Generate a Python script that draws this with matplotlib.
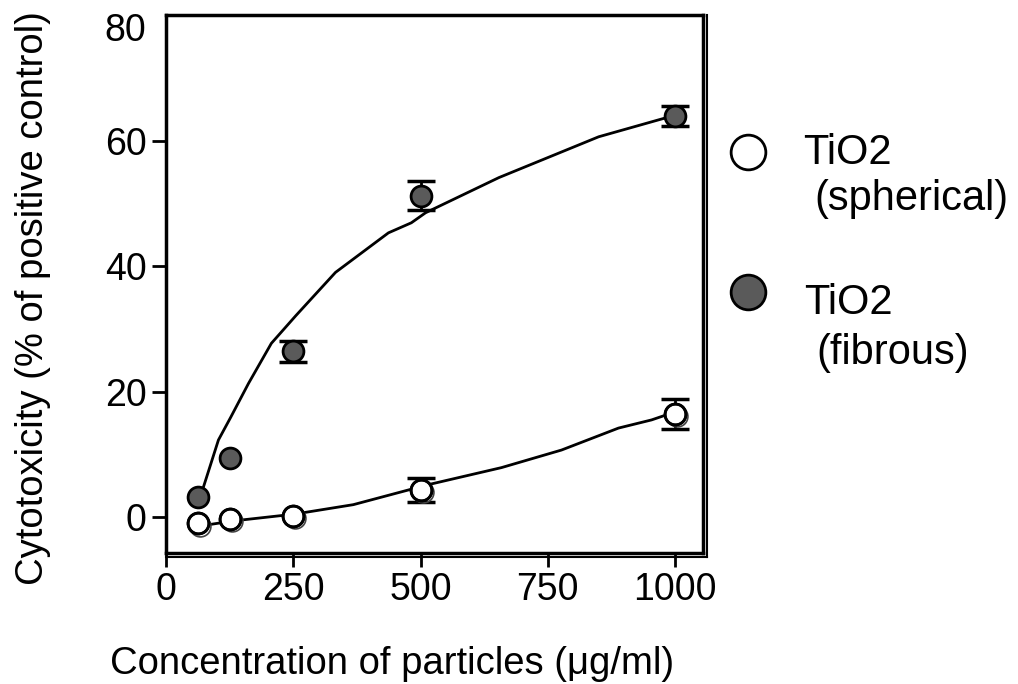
import matplotlib
matplotlib.use("Agg")
import matplotlib.pyplot as plt
import matplotlib.transforms as mtransforms
from matplotlib.lines import Line2D

plt.rcParams['font.family'] = ['Liberation Sans', 'DejaVu Sans']

# ---- data ----
conc = [62.5, 125, 250, 500, 1000]
fibrous = [3.2, 9.5, 26.4, 51.2, 63.9]
fibrous_err = [0, 0, 1.7, 2.3, 1.6]
spherical = [-1.0, -0.3, 0.2, 4.4, 16.5]
spherical_err = [0, 0, 0, 1.9, 2.4]

# fitted curves
fib_fit_x = [70, 103, 127, 162, 207, 255, 333, 437, 482, 510, 654, 850, 981, 1001]
fib_fit_y = [3.9, 12.3, 15.9, 21.3, 27.7, 32.1, 39.0, 45.3, 46.9, 48.5, 54.1, 60.6, 63.6, 63.9]
sph_fit_x = [59, 131, 253, 368, 516, 659, 777, 889, 954, 1001]
sph_fit_y = [-1.5, -0.6, 0.5, 2.0, 5.2, 7.9, 10.7, 14.2, 15.5, 16.8]

xticks = [0, 250, 500, 750, 1000]
yticks = [0, 20, 40, 60, 80]

W, H = 1018, 684
fig = plt.figure(figsize=(W / 100, H / 100), dpi=100)
ax = fig.add_axes([166 / W, 1 - 553 / H, (703 - 166) / W, (553 - 15) / H])

dark = '#5a5a5a'

ax.plot(fib_fit_x, fib_fit_y, color='black', lw=2, zorder=2)
ax.plot(sph_fit_x, sph_fit_y, color='black', lw=2, zorder=2)


def draw_err(xs, ys, es):
    sel = [i for i, e in enumerate(es) if e > 0]
    ax.errorbar([xs[i] for i in sel], [ys[i] for i in sel], yerr=[es[i] for i in sel],
                fmt='none', ecolor='black', elinewidth=2, capsize=10, capthick=2.5,
                zorder=3)


draw_err(conc, fibrous, fibrous_err)
draw_err(conc, spherical, spherical_err)

ax.plot(conc, fibrous, 'o', ms=15, mfc=dark, mec='black', mew=2, zorder=4)
# shadow ring for the open circles
shadow = mtransforms.offset_copy(ax.transData, fig=fig, x=1.5, y=-1.5, units='points')
ax.plot(conc, spherical, 'o', ms=15, mfc='none', mec='#444444', mew=1.2,
        transform=shadow, zorder=4)
ax.plot(conc, spherical, 'o', ms=15, mfc='white', mec='black', mew=2, zorder=5)
ax.plot(conc, spherical, 'o', ms=15, mfc='none', mec='black', mew=2, zorder=6)

ax.set_xlim(0, 1055)
ax.set_ylim(-5.7, 80)
ax.set_xticks(xticks)
ax.set_yticks(yticks)
ax.tick_params(axis='both', direction='out', length=10, width=2, labelsize=27, pad=4)
for s in ax.spines.values():
    s.set_linewidth(2.5)

# no tick mark at 80, and its label sits a little lower, as in the reference
ax.yaxis.get_major_ticks()[-1].tick1line.set_visible(False)
lab = ax.get_yticklabels()
lab[-1].set_transform(lab[-1].get_transform() +
                      mtransforms.ScaledTranslation(0, -0.12, fig.dpi_scale_trans))

# shadow lines on right and bottom
fig.add_artist(Line2D([707 / W, 707 / W], [1 - 557 / H, 1 - 15 / H], color='black', lw=1.5))
fig.add_artist(Line2D([166 / W, 707 / W], [1 - 557 / H, 1 - 557 / H], color='black', lw=1.5))

fig.text(392 / W, 1 - 664 / H, 'Concentration of particles (μg/ml)', fontsize=27.5,
         ha='center', va='center')
fig.text(33 / W, 1 - 298 / H, 'Cytotoxicity (% of positive control)', fontsize=27.5,
         ha='center', va='center', rotation=90)

# legend
fig.add_artist(Line2D([748 / W], [1 - 152 / H], marker='o', ms=25, mfc='white',
                      mec='black', mew=2, ls='none'))
fig.add_artist(Line2D([748 / W], [1 - 292 / H], marker='o', ms=25, mfc=dark,
                      mec='black', mew=2, ls='none'))
fig.text(803 / W, 1 - 153 / H, 'TiO2', fontsize=30, ha='left', va='center')
fig.text(814 / W, 1 - 199 / H, '(spherical)', fontsize=30, ha='left', va='center')
fig.text(804 / W, 1 - 303 / H, 'TiO2', fontsize=30, ha='left', va='center')
fig.text(816 / W, 1 - 353 / H, '(fibrous)', fontsize=30, ha='left', va='center')

fig.savefig('out.png', dpi=100)
